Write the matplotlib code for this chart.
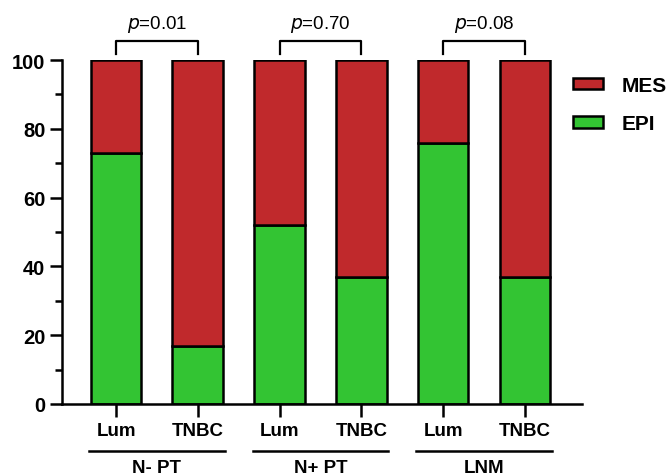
import matplotlib.pyplot as plt
import matplotlib.transforms as mtransforms
from matplotlib.patches import Patch
from matplotlib.ticker import MultipleLocator

plt.rcParams['font.family'] = ['Liberation Sans', 'DejaVu Sans']

# EPI / MES percentages per subtype, grouped by tissue
groups = ['N- PT', 'N+ PT', 'LNM']
subtypes = ['Lum', 'TNBC', 'Lum', 'TNBC', 'Lum', 'TNBC']
epi = [73, 17, 52, 37, 76, 37]
mes = [100 - v for v in epi]
p_values = ['0.01', '0.70', '0.08']

RED = '#C0292C'
GREEN = '#33C433'
LW = 1.8

fig = plt.figure(figsize=(6.72, 4.77), dpi=100)
ax = fig.add_axes([0.0923, 0.151, 0.774, 0.721])

x = list(range(len(subtypes)))
ax.bar(x, epi, width=0.62, color=GREEN, edgecolor='black', linewidth=LW, zorder=2)
ax.bar(x, mes, bottom=epi, width=0.62, color=RED, edgecolor='black', linewidth=LW, zorder=2)

ax.set_xlim(-0.66, 5.70)
ax.set_ylim(0, 100)
ax.yaxis.set_major_locator(MultipleLocator(20))
ax.yaxis.set_minor_locator(MultipleLocator(10))
ax.set_xticks(x)
ax.set_xticklabels(subtypes, fontsize=13.5, fontweight='bold')
for lbl in ax.get_yticklabels():
    lbl.set_fontsize(14.5)
    lbl.set_fontweight('bold')

for side in ('top', 'right'):
    ax.spines[side].set_visible(False)
for side in ('left', 'bottom'):
    ax.spines[side].set_linewidth(LW)
ax.tick_params(axis='both', which='major', length=9, width=LW, pad=3)
ax.tick_params(axis='y', which='minor', length=5, width=LW)
ax.tick_params(axis='x', pad=4)

# group underlines and names below the subtype labels
trans = mtransforms.blended_transform_factory(ax.transData, ax.transAxes)
for i, name in enumerate(groups):
    left, right = 2 * i - 0.33, 2 * i + 1 + 0.33
    ax.plot([left, right], [-0.137, -0.137], color='black', lw=LW,
            transform=trans, clip_on=False)
    ax.text(2 * i + 0.5, -0.184, name, transform=trans, ha='center', va='center',
            fontsize=13.5, fontweight='bold')

# significance brackets
for i, p in enumerate(p_values):
    a, b = 2 * i, 2 * i + 1
    ax.plot([a, a, b, b], [101.7, 105.5, 105.5, 101.7], color='black', lw=1.6,
            clip_on=False)
    ax.text((a + b) / 2, 110.5, r'$\it{p}$' + '=' + p, ha='center', va='center',
            fontsize=13.5)

handles = [Patch(facecolor=RED, edgecolor='black', linewidth=LW, label='MES'),
           Patch(facecolor=GREEN, edgecolor='black', linewidth=LW, label='EPI')]
leg = fig.legend(handles=handles, loc='upper left', bbox_to_anchor=(0.825, 0.878),
                 frameon=False, handlelength=1.45, handleheight=0.5,
                 labelspacing=0.92, handletextpad=0.9,
                 prop={'size': 15, 'weight': 'bold'})

fig.savefig('out.png', dpi=100)
